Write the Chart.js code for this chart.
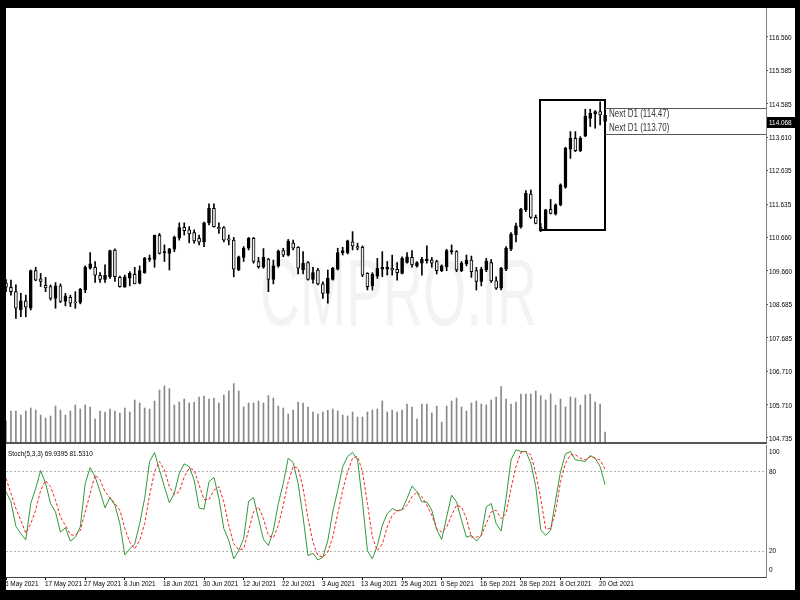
<!DOCTYPE html>
<html>
<head>
<meta charset="utf-8">
<script src="https://cdn.jsdelivr.net/npm/chart.js@4.4.0/dist/chart.umd.min.js"></script>
<style>
html, body { margin: 0; padding: 0; background: #000; width: 800px; height: 600px; overflow: hidden; }
#frame { position: absolute; left: 6px; top: 8px; width: 789px; height: 582px; background: #fff; }
#mainChart { position: absolute; left: 0; top: 0; }
#sep { position: absolute; left: 0; top: 434px; width: 761px; height: 2px; background: #555; }
#stochChart { position: absolute; left: 0; top: 436px; }
</style>
</head>
<body>
<div id="frame">
    <canvas id="mainChart" width="789" height="434"></canvas>
    <div id="sep"></div>
    <canvas id="stochChart" width="789" height="146"></canvas>
</div>
<script>
// ================================
// USDJPY D1 - candles, volumes, Stoch(5,3,3)
// ================================

const FONT = "'Liberation Sans', 'DejaVu Sans', sans-serif";
const NARROW = 0.8; // horizontal squeeze for the small terminal-style text

// x tick labels (one every 8 bars)
const dateTicks = [0, 8, 16, 24, 32, 40, 48, 56, 64, 72, 80, 88, 96, 104, 112, 120];
const dateLabels = ['5 May 2021', '17 May 2021', '27 May 2021', '8 Jun 2021', '18 Jun 2021', '30 Jun 2021',
    '12 Jul 2021', '22 Jul 2021', '3 Aug 2021', '13 Aug 2021', '25 Aug 2021', '6 Sep 2021',
    '16 Sep 2021', '28 Sep 2021', '8 Oct 2021', '20 Oct 2021'];

// price axis labels
const priceTicks = [104.735, 105.710, 106.710, 107.685, 108.685, 109.660, 110.660,
    111.635, 112.635, 113.610, 114.585, 115.585, 116.560];

const openPrices = [
    109.30, 109.18, 109.05, 108.51, 108.78, 108.56, 109.67, 109.43, 109.24, 109.20,
    108.85, 109.22, 108.76, 108.88, 108.75, 108.73, 109.10, 109.74, 109.77, 109.53,
    109.41, 109.49, 110.28, 109.47, 109.18, 109.45, 109.56, 109.30, 109.61, 110.00,
    110.00, 110.71, 110.20, 110.18, 110.30, 110.64, 110.95, 110.87, 110.79, 110.62,
    110.52, 111.08, 111.51, 110.95, 110.94, 110.61, 110.57, 109.69, 110.06, 110.33,
    110.62, 109.94, 109.77, 110.01, 109.41, 109.81, 110.26, 110.13, 110.48, 110.36,
    109.69, 109.91, 109.41, 109.69, 109.28, 109.00, 109.41, 109.71, 110.20, 110.20,
    110.52, 110.38, 110.36, 109.59, 109.22, 109.51, 109.71, 109.71, 109.74, 109.71,
    109.59, 109.91, 110.06, 109.81, 109.89, 109.96, 109.98, 109.94, 109.67, 109.79,
    110.23, 110.23, 109.67, 109.87, 109.98, 109.67, 109.35, 109.69, 109.91, 109.37,
    109.15, 109.71, 110.30, 110.72, 110.97, 111.46, 111.93, 111.24, 110.95, 110.89,
    111.48, 111.34, 111.61, 112.13, 113.25, 113.57, 113.21, 113.64, 114.16, 114.29,
    114.36, 114.26
];
const highPrices = [
    109.41, 109.39, 109.25, 109.00, 108.95, 109.69, 109.77, 109.59, 109.47, 109.25,
    109.32, 109.28, 109.00, 108.95, 109.05, 109.15, 109.81, 110.20, 109.94, 109.61,
    109.84, 110.28, 110.31, 109.51, 109.54, 109.64, 109.77, 109.81, 110.06, 110.13,
    110.72, 110.77, 110.43, 110.33, 110.69, 111.08, 111.08, 110.97, 110.87, 110.72,
    111.10, 111.64, 111.64, 111.08, 110.97, 110.72, 110.65, 110.10, 110.38, 110.65,
    110.65, 110.06, 110.32, 110.03, 109.98, 110.28, 110.33, 110.59, 110.57, 110.38,
    110.23, 109.94, 109.77, 109.74, 109.34, 109.69, 109.77, 110.33, 110.36, 110.57,
    110.82, 110.48, 110.40, 109.61, 109.61, 110.03, 110.23, 109.94, 110.13, 109.91,
    110.08, 110.20, 110.26, 109.94, 110.06, 110.40, 110.06, 109.98, 109.84, 110.30,
    110.43, 110.26, 109.94, 110.13, 110.10, 109.77, 109.77, 110.03, 110.00, 109.49,
    109.77, 110.38, 110.79, 111.07, 111.51, 112.03, 112.05, 111.31, 111.06, 111.48,
    111.77, 111.64, 112.23, 113.31, 113.77, 113.77, 113.62, 114.43, 114.43, 114.39,
    114.65, 114.36
];
const lowPrices = [
    109.05, 108.95, 108.26, 108.31, 108.31, 108.51, 109.37, 109.20, 109.05, 108.80,
    108.56, 108.73, 108.63, 108.61, 108.56, 108.69, 109.02, 109.71, 109.32, 109.32,
    109.32, 109.44, 109.35, 109.18, 109.18, 109.22, 109.28, 109.28, 109.59, 109.94,
    109.77, 110.16, 109.94, 109.69, 110.23, 110.57, 110.72, 110.49, 110.48, 110.43,
    110.38, 111.02, 110.95, 110.77, 110.52, 110.43, 109.49, 109.67, 109.94, 110.28,
    109.89, 109.74, 109.74, 109.05, 109.28, 109.77, 110.08, 110.10, 110.28, 109.57,
    109.57, 109.39, 109.30, 109.25, 108.85, 108.71, 109.39, 109.69, 110.13, 110.16,
    110.28, 110.28, 109.49, 109.10, 109.10, 109.44, 109.49, 109.54, 109.54, 109.39,
    109.57, 109.89, 109.77, 109.77, 109.54, 109.89, 109.77, 109.57, 109.64, 109.67,
    110.16, 109.64, 109.64, 109.81, 109.47, 109.10, 109.22, 109.64, 109.32, 109.12,
    109.10, 109.67, 110.26, 110.52, 110.92, 111.41, 111.21, 111.05, 110.82, 110.87,
    111.34, 111.31, 111.58, 112.10, 112.98, 113.18, 113.18, 113.62, 113.92, 113.87,
    113.97, 114.01
];
const closePrices = [
    109.18, 109.05, 108.56, 108.78, 108.59, 109.67, 109.39, 109.35, 109.16, 108.85,
    109.22, 108.76, 108.93, 108.71, 108.72, 109.12, 109.77, 109.87, 109.54, 109.41,
    109.53, 110.26, 109.49, 109.20, 109.49, 109.59, 109.28, 109.67, 110.04, 110.04,
    110.71, 110.18, 110.20, 110.31, 110.65, 110.94, 110.85, 110.75, 110.55, 110.51,
    111.08, 111.51, 110.97, 110.90, 110.57, 110.57, 109.71, 110.08, 110.33, 110.62,
    109.94, 109.79, 110.06, 109.41, 109.81, 110.25, 110.13, 110.54, 110.33, 109.74,
    109.89, 109.41, 109.61, 109.28, 109.00, 109.44, 109.74, 110.20, 110.26, 110.55,
    110.40, 110.33, 109.54, 109.20, 109.57, 109.74, 109.77, 109.77, 109.69, 109.61,
    110.03, 110.08, 109.84, 109.91, 110.00, 110.00, 109.89, 109.67, 109.81, 110.26,
    110.26, 109.69, 109.89, 109.98, 109.64, 109.35, 109.71, 109.95, 109.37, 109.15,
    109.74, 110.33, 110.75, 110.99, 111.48, 111.95, 111.24, 111.06, 110.89, 111.46,
    111.36, 111.61, 112.20, 113.28, 113.57, 113.21, 113.57, 114.23, 114.31, 114.36,
    114.26, 114.068
];

// tick volume (relative)
const volumes = [
    63, 93, 93, 81, 93, 102, 96, 81, 72, 78,
    108, 96, 81, 93, 111, 99, 111, 105, 69, 93,
    90, 99, 93, 87, 102, 90, 126, 117, 102, 99,
    123, 156, 168, 160, 111, 120, 129, 117, 119, 135,
    138, 129, 132, 117, 141, 153, 175, 153, 105, 117,
    117, 123, 117, 139, 132, 108, 102, 84, 96, 120,
    117, 105, 90, 84, 90, 95, 99, 93, 81, 78,
    90, 75, 75, 90, 96, 99, 123, 90, 96, 90,
    96, 114, 105, 69, 114, 114, 87, 108, 60, 108,
    123, 132, 105, 93, 117, 123, 114, 111, 126, 135,
    166, 129, 114, 120, 144, 144, 144, 153, 139, 126,
    144, 111, 129, 105, 135, 132, 111, 141, 144, 120,
    114, 30
];

// Stochastic %K (main) and %D (signal)
const stochK = [
    64.6, 56.9, 38.4, 32.8, 28.2, 55.7, 67.1, 80.6, 70.9, 55.7,
    49.3, 34.0, 37.3, 27.2, 30.2, 37.9, 70.9, 82.9, 76.0, 64.6,
    52.4, 60.2, 54.4, 40.4, 16.7, 21.3, 25.1, 40.4, 59.5, 87.5,
    94.3, 81.1, 68.4, 56.2, 63.3, 78.6, 85.7, 83.6, 73.5, 52.4,
    51.3, 72.2, 75.5, 59.5, 36.6, 27.7, 13.7, 20.0, 29.0, 57.4,
    60.2, 44.2, 28.4, 23.9, 35.3, 55.7, 70.9, 90.0, 86.7, 70.9,
    45.5, 16.2, 18.0, 12.9, 15.0, 27.7, 49.3, 65.8, 83.6, 91.3,
    94.3, 88.7, 56.9, 20.0, 13.7, 23.9, 39.1, 48.0, 51.8, 50.1,
    51.1, 59.5, 68.9, 64.6, 56.9, 56.9, 50.6, 35.8, 28.4, 45.5,
    62.0, 56.9, 42.9, 30.2, 31.5, 27.2, 31.5, 53.1, 55.7, 40.4,
    34.8, 59.5, 88.7, 96.4, 95.1, 95.1, 86.2, 68.4, 35.8, 31.5,
    35.3, 58.2, 79.8, 93.3, 95.1, 88.7, 88.2, 87.5, 92.0, 90.0,
    83.6, 69.9395
];
const stochD = [
    74.7, 63.3, 51.8, 42.9, 33.3, 40.4, 50.6, 65.8, 73.0, 68.4,
    58.2, 45.5, 39.1, 32.0, 31.5, 35.3, 49.3, 63.3, 77.3, 73.5,
    64.6, 60.2, 55.7, 50.6, 36.6, 26.4, 21.3, 27.7, 40.4, 62.0,
    79.8, 87.5, 81.1, 68.4, 62.5, 64.6, 76.0, 82.4, 81.1, 69.7,
    58.7, 58.7, 65.8, 68.4, 56.9, 39.1, 25.1, 20.6, 21.3, 35.3,
    49.3, 53.1, 44.2, 31.5, 29.7, 39.1, 54.4, 72.2, 83.6, 82.4,
    67.6, 44.2, 26.4, 16.2, 15.0, 18.8, 30.2, 48.0, 65.8, 79.8,
    90.0, 91.3, 79.8, 55.7, 30.2, 20.0, 25.1, 37.9, 46.8, 50.1,
    50.6, 54.4, 60.8, 64.6, 60.8, 54.4, 46.8, 36.6, 34.0, 37.9,
    46.8, 54.4, 53.1, 44.2, 30.2, 30.2, 31.5, 40.4, 49.3, 50.6,
    44.2, 48.0, 67.1, 83.6, 94.3, 95.1, 92.6, 78.6, 59.5, 36.6,
    36.6, 49.3, 72.2, 86.2, 92.6, 92.6, 90.0, 88.7, 91.3, 90.0,
    88.7, 81.5310
];

// drawn objects on the chart
const boxFrom = 107.9, boxTo = 121, boxTop = 114.70, boxBottom = 110.87;
const nextLevels = [114.47, 113.70];
const lastPrice = 114.068;
const stochLevels = [20, 80];

const X_MIN = 0, X_MAX = 153.5;

// squeezed text, like the terminal's narrow font
function narrowText(ctx, text, x, y, align) {
    ctx.save();
    ctx.translate(x, y);
    ctx.scale(NARROW, 1);
    ctx.textAlign = align || 'left';
    ctx.fillText(text, 0, 0);
    ctx.restore();
}

// Watermark + box + "Next D1" levels + price labels + current price tag
const mainDecor = {
    id: 'mainDecor',
    beforeDatasetsDraw(chart) {
        const ctx = chart.ctx;
        ctx.save();
        ctx.font = "94px 'Liberation Sans', sans-serif";
        ctx.fillStyle = '#f3f3f3';
        ctx.textBaseline = 'alphabetic';
        const w = ctx.measureText('CMPRO.IR').width;
        ctx.translate(254, 317);
        ctx.scale(277 / w, 1);
        ctx.fillText('CMPRO.IR', 0, 0);
        ctx.restore();
    },
    afterDatasetsDraw(chart) {
        const ctx = chart.ctx;
        const xs = chart.scales.x, ys = chart.scales.y;
        const area = chart.chartArea;
        ctx.save();
        // rectangle
        const x1 = xs.getPixelForValue(boxFrom), x2 = xs.getPixelForValue(boxTo);
        const y1 = ys.getPixelForValue(boxTop), y2 = ys.getPixelForValue(boxBottom);
        ctx.strokeStyle = '#000';
        ctx.lineWidth = 2;
        ctx.strokeRect(Math.round(x1), Math.round(y1), Math.round(x2 - x1), Math.round(y2 - y1));
        // Next D1 lines
        ctx.strokeStyle = '#555';
        ctx.lineWidth = 1;
        nextLevels.forEach(v => {
            const y = Math.round(ys.getPixelForValue(v)) + 0.5;
            ctx.beginPath();
            ctx.moveTo(x2, y);
            ctx.lineTo(area.right, y);
            ctx.stroke();
        });
        ctx.fillStyle = '#333';
        ctx.font = '10px ' + FONT;
        ctx.textBaseline = 'top';
        narrowText(ctx, 'Next D1 (' + nextLevels[0].toFixed(2) + ')', x2 + 4, ys.getPixelForValue(nextLevels[0]) + 1);
        ctx.textBaseline = 'bottom';
        narrowText(ctx, 'Next D1 (' + nextLevels[1].toFixed(2) + ')', x2 + 4, ys.getPixelForValue(nextLevels[1]) - 1);
        ctx.restore();
    },
    afterDraw(chart) {
        const ctx = chart.ctx;
        const ys = chart.scales.y;
        const area = chart.chartArea;
        ctx.save();
        ctx.font = '8px ' + FONT;
        ctx.textBaseline = 'middle';
        ctx.fillStyle = '#000';
        priceTicks.forEach(v => {
            narrowText(ctx, v.toFixed(3), area.right + 3, Math.round(ys.getPixelForValue(v)) + 0.5);
        });
        const y = Math.round(ys.getPixelForValue(lastPrice));
        ctx.fillStyle = '#000';
        ctx.fillRect(area.right + 1, y - 5, chart.width - area.right - 1, 11);
        ctx.fillStyle = '#fff';
        narrowText(ctx, lastPrice.toFixed(3), area.right + 3, y + 0.5);
        ctx.restore();
    }
};

const candleIdx = closePrices.map((_, i) => i);

new Chart(document.getElementById('mainChart'), {
    type: 'bar',
    data: {
        datasets: [
            {
                // candle bodies
                data: candleIdx.map(i => ({ x: i, y: [openPrices[i], closePrices[i]] })),
                backgroundColor: candleIdx.map(i => closePrices[i] >= openPrices[i] ? '#000' : '#f2ecec'),
                borderColor: '#000',
                borderWidth: 1,
                borderSkipped: false,
                barThickness: 3,
                minBarLength: 1,
                grouped: false,
                yAxisID: 'y'
            },
            {
                // wicks
                data: candleIdx.map(i => ({ x: i, y: [lowPrices[i], highPrices[i]] })),
                backgroundColor: '#000',
                borderWidth: 0,
                barThickness: 1,
                grouped: false,
                yAxisID: 'y'
            },
            {
                // volumes
                data: candleIdx.map(i => ({ x: i, y: volumes[i] })),
                backgroundColor: '#888',
                borderWidth: 0,
                barThickness: 1,
                grouped: false,
                yAxisID: 'yv'
            }
        ]
    },
    options: {
        responsive: false,
        animation: false,
        devicePixelRatio: 1,
        events: [],
        layout: { padding: 0 },
        plugins: { legend: { display: false }, tooltip: { enabled: false } },
        scales: {
            x: { type: 'linear', min: X_MIN, max: X_MAX, offset: false, display: false },
            y: {
                position: 'right',
                min: 104.617,
                max: 117.415,
                afterBuildTicks: s => { s.ticks = priceTicks.map(v => ({ value: v })); },
                afterFit: s => { s.width = 29; s.paddingTop = 0; s.paddingBottom = 0; },
                border: { display: true, color: '#808080', width: 1 },
                grid: { drawOnChartArea: false, drawTicks: true, tickLength: 2, color: '#444' },
                ticks: { display: false }
            },
            yv: { display: false, min: 0, max: 1302 }
        }
    },
    plugins: [mainDecor]
});

// Stoch levels, axis labels and title
const stochDecor = {
    id: 'stochDecor',
    beforeDatasetsDraw(chart) {
        const ctx = chart.ctx;
        const ys = chart.scales.y;
        const area = chart.chartArea;
        ctx.save();
        ctx.strokeStyle = '#b4b4b4';
        ctx.lineWidth = 1;
        ctx.setLineDash([2, 2]);
        stochLevels.forEach(v => {
            const y = Math.round(ys.getPixelForValue(v)) + 0.5;
            ctx.beginPath();
            ctx.moveTo(area.left, y);
            ctx.lineTo(area.right, y);
            ctx.stroke();
        });
        ctx.restore();
    },
    afterDraw(chart) {
        const ctx = chart.ctx;
        const xs = chart.scales.x, ys = chart.scales.y;
        const area = chart.chartArea;
        ctx.save();
        ctx.fillStyle = '#000';
        ctx.font = '8px ' + FONT;
        ctx.textBaseline = 'middle';
        const labels = [[100, 7], [80, 0], [20, 0], [0, -7]];
        labels.forEach(([v, off]) => {
            narrowText(ctx, String(v), area.right + 3, ys.getPixelForValue(v) + off);
        });
        narrowText(ctx, 'Stoch(5,3,3) ' + stochK[stochK.length - 1].toFixed(4) + ' ' + stochD[stochD.length - 1].toFixed(4),
            area.left + 2, area.top + 9);
        // date labels
        ctx.textBaseline = 'top';
        dateTicks.forEach((t, i) => {
            narrowText(ctx, dateLabels[i], Math.round(xs.getPixelForValue(t)) - 1, area.bottom + 3);
        });
        ctx.restore();
    }
};

new Chart(document.getElementById('stochChart'), {
    type: 'line',
    data: {
        datasets: [
            {
                label: 'Signal',
                data: candleIdx.map(i => ({ x: i, y: stochD[i] })),
                borderColor: '#ff2020',
                borderWidth: 1,
                borderDash: [3, 2],
                pointRadius: 0,
                tension: 0
            },
            {
                label: 'Main',
                data: candleIdx.map(i => ({ x: i, y: stochK[i] })),
                borderColor: '#2f9a3a',
                borderWidth: 1,
                pointRadius: 0,
                tension: 0
            }
        ]
    },
    options: {
        responsive: false,
        animation: false,
        devicePixelRatio: 1,
        events: [],
        layout: { padding: { top: 1 } },
        plugins: { legend: { display: false }, tooltip: { enabled: false } },
        scales: {
            x: {
                type: 'linear',
                min: X_MIN,
                max: X_MAX,
                afterBuildTicks: s => { s.ticks = dateTicks.map(v => ({ value: v })); },
                afterFit: s => { s.height = 13; s.paddingLeft = 0; s.paddingRight = 0; },
                border: { display: true, color: '#404040', width: 1 },
                grid: { drawOnChartArea: false, drawTicks: true, tickLength: 3, color: '#000' },
                ticks: { display: false }
            },
            y: {
                position: 'right',
                min: 0,
                max: 100,
                afterFit: s => { s.width = 29; s.paddingTop = 0; s.paddingBottom = 0; },
                border: { display: true, color: '#808080', width: 1 },
                grid: { display: false },
                ticks: { display: false }
            }
        }
    },
    plugins: [stochDecor]
});
</script>
</body>
</html>
